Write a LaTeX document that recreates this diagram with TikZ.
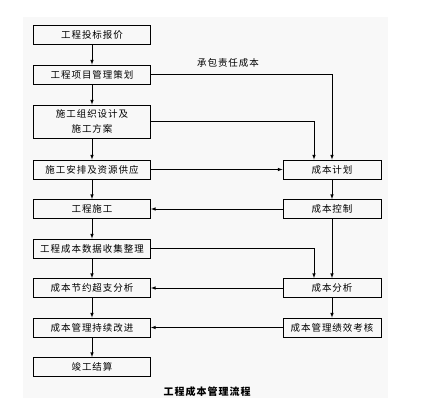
\documentclass[tikz,border=0pt]{standalone}
\usepackage{fontspec}
\setmainfont{Noto Sans CJK SC}[LetterSpace=10]
\usetikzlibrary{arrows, calc, positioning}
\definecolor{scanbg}{RGB}{248,248,248}

\begin{document}
\begin{tikzpicture}[x=1pt, y=-1pt,
    lbox/.style={rectangle, draw, line width=0.9pt, minimum width=117pt, minimum height=19pt, align=center, inner sep=1pt, font=\fontsize{9.5}{15}\selectfont},
    rbox/.style={lbox, minimum width=98pt},
    flow/.style={->, >=latex, line width=0.6pt},
]
    \useasboundingbox (0,0) rectangle (423,412);
    \fill[scanbg] (23,17) rectangle (388,398);

    % left column
    \node[lbox] (b1) at (92,35) {工程投标报价};
    \node[lbox] (b2) at (92,74.5) {工程项目管理策划};
    \node[lbox, minimum height=33pt] (b3) at (92,121.5) {施工组织设计及\\施工方案};
    \node[lbox] (b4) at (92,169.5) {施工安排及资源供应};
    \node[lbox] (b5) at (92,209) {工程施工};
    \node[lbox] (b6) at (92,248.5) {工程成本数据收集整理};
    \node[lbox] (b7) at (92,288) {成本节约超支分析};
    \node[lbox] (b8) at (92,327.5) {成本管理持续改进};
    \node[lbox] (b9) at (92,367) {竣工结算};

    % right column
    \node[rbox] (r1) at (332,169.5) {成本计划};
    \node[rbox] (r2) at (332,209) {成本控制};
    \node[rbox] (r3) at (332,288) {成本分析};
    \node[rbox] (r4) at (332,327.5) {成本管理绩效考核};

    \node[font=\fontsize{9.5}{12}\selectfont] (resp) at (228,63) {承包责任成本};
    \node[font=\fontsize{10}{12}\selectfont\bfseries] (title) at (207,392) {工程成本管理流程};

    % main chain
    \foreach \a/\b in {b1/b2, b2/b3, b3/b4, b4/b5, b5/b6, b6/b7, b7/b8, b8/b9, r1/r2, r2/r3, r3/r4}
        \draw[flow] (\a) -- (\b);

    % cross links
    \draw[flow] (b2.east) -| (r1.north);
    \draw[flow] (b3.east) -| ([xshift=-18pt]r1.north);
    \draw[flow] (b4) -- (r1);
    \draw[flow] (r2) -- (b5);
    \draw[flow] (b6.east) -| ([xshift=-18pt]r3.north);
    \draw[flow] (r3) -- (b7);
    \draw[flow] (r4) -- (b8);
\end{tikzpicture}
\end{document}
